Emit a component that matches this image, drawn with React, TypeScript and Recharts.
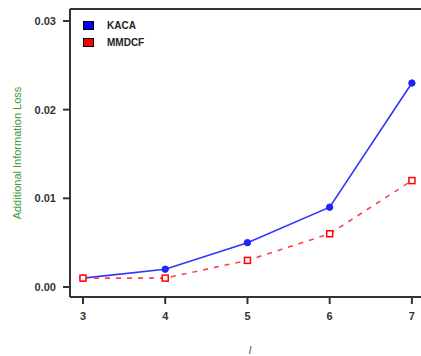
import { LineChart, Line, XAxis, YAxis, ReferenceLine } from "recharts";

const levels = [3, 4, 5, 6, 7];
const kaca = [0.001, 0.002, 0.005, 0.009, 0.023];
const mmdcf = [0.001, 0.001, 0.003, 0.006, 0.012];
const yTicks = [0, 0.01, 0.02, 0.03];
const seriesNames = ["KACA", "MMDCF"];

const data = levels.map((l, i) => ({ l, kaca: kaca[i], mmdcf: mmdcf[i] }));

const Y_MIN = -0.00113;
const Y_MAX = 0.03135;
const AXIS = "#333";
const FONT = "Liberation Sans, Arial, sans-serif";
const tickStyle = { fill: "#333", fontSize: 11, fontWeight: 700, fontFamily: FONT };

function SquareDot({ cx, cy }: { cx?: number; cy?: number }) {
  if (cx === undefined || cy === undefined) return null;
  return <rect x={cx - 3} y={cy - 3} width={6} height={6} fill="#fff" stroke="#ff0000" strokeWidth={1.5} />;
}

function LegendBox() {
  const colors = ["#0000ff", "#ff0000"];
  return (
    <div
      style={{
        position: "absolute",
        left: 83,
        top: 17,
        fontFamily: FONT,
        fontSize: 10,
        fontWeight: 700,
        color: "#222",
      }}
    >
      {seriesNames.map((name, i) => (
        <div key={name} style={{ display: "flex", alignItems: "center", height: 17 }}>
          <span
            style={{
              display: "inline-block",
              width: 9,
              height: 7,
              background: colors[i],
              border: "1px solid #000",
              marginRight: 13,
            }}
          />
          {name}
        </div>
      ))}
    </div>
  );
}

export default function App() {
  return (
    <div style={{ position: "absolute", left: 0, top: 0, width: 421, height: 356, overflow: "hidden", background: "#fff" }}>
      <LineChart width={440} height={356} data={data} margin={{ top: 9, right: 10, bottom: 0, left: 0 }}>
        <XAxis
          dataKey="l"
          type="number"
          domain={[2.842, 7.22]}
          ticks={levels}
          allowDataOverflow
          stroke={AXIS}
          strokeWidth={2}
          tickSize={7}
          tickMargin={8}
          tick={tickStyle}
          height={59}
          label={{
            value: "l",
            position: "insideBottom",
            offset: 2,
            style: { fill: "#555", fontStyle: "italic", fontSize: 11, fontFamily: FONT },
          }}
        />
        <YAxis
          type="number"
          domain={[Y_MIN, Y_MAX]}
          ticks={yTicks}
          allowDataOverflow
          tickFormatter={(v: number) => v.toFixed(2)}
          stroke={AXIS}
          strokeWidth={2}
          tickSize={7}
          tickMargin={7}
          tick={tickStyle}
          width={70}
          label={{
            value: "Additional Information Loss",
            angle: -90,
            position: "insideLeft",
            offset: 17,
            style: { fill: "#3a9a3a", fontSize: 11, fontFamily: FONT, textAnchor: "middle" },
          }}
        />
        <ReferenceLine y={Y_MAX} stroke={AXIS} strokeWidth={2} />
        <Line
          type="linear"
          dataKey="kaca"
          name={seriesNames[0]}
          stroke="#3333ff"
          strokeWidth={1.6}
          dot={{ r: 3.2, fill: "#2222ff", stroke: "#2222ff", strokeWidth: 1 }}
          activeDot={false}
          isAnimationActive={false}
        />
        <Line
          type="linear"
          dataKey="mmdcf"
          name={seriesNames[1]}
          stroke="#ff4444"
          strokeWidth={1.6}
          strokeDasharray="5 6"
          dot={<SquareDot />}
          activeDot={false}
          isAnimationActive={false}
        />
      </LineChart>
      <LegendBox />
    </div>
  );
}
